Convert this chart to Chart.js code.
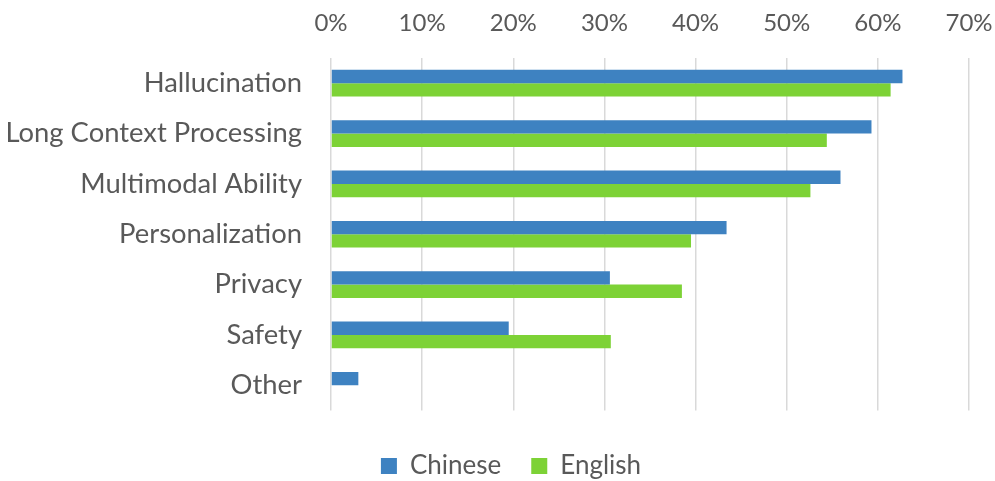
<!DOCTYPE html>
<html>
<head>
<meta charset="utf-8">
<script src="https://cdn.jsdelivr.net/npm/chart.js@4"></script>
<style>
  html, body { margin: 0; padding: 0; background: #fff; }
  #wrap { width: 995px; height: 481px; }
</style>
</head>
<body>
<div id="wrap"><canvas id="challengeChart" width="995" height="481"></canvas></div>
<script>
// categories and share of responses per language (percent)
const categories = ['Hallucination', 'Long Context Processing', 'Multimodal Ability', 'Personalization', 'Privacy', 'Safety', 'Other'];
const chineseValues = [62.7, 59.3, 55.9, 43.4, 30.6, 19.5, 3.0];
const englishValues = [61.4, 54.4, 52.6, 39.5, 38.5, 30.7, 0];
const tickMax = 70;
const tickStep = 10;

const textColor = '#595959';
const fontFamily = 'Lato, "Open Sans", sans-serif';

// plot box edges in canvas pixels
const plotLeft = 331;
const plotTop = 58;
const padLeft = 6;
const padRight = -21;          // widens the legend box so it sits a bit right of centre
const plotRightGap = 26;

const ctx = document.getElementById('challengeChart').getContext('2d');

const challengeChart = new Chart(ctx, {
    type: 'bar',
    data: {
        labels: categories,
        datasets: [
            {
                label: 'Chinese',
                data: chineseValues,
                backgroundColor: '#3e82c1',
                categoryPercentage: 0.53,
                barPercentage: 1.0,
            },
            {
                label: 'English',
                data: englishValues,
                backgroundColor: '#7dd236',
                categoryPercentage: 0.53,
                barPercentage: 1.0,
            }
        ]
    },
    options: {
        indexAxis: 'y',
        responsive: false,
        animation: false,
        layout: {
            padding: { left: padLeft, right: padRight, top: 0, bottom: -8 }
        },
        scales: {
            x: {
                position: 'top',
                min: 0,
                max: tickMax,
                ticks: {
                    stepSize: tickStep,
                    color: textColor,
                    font: { family: fontFamily, size: 24 },
                    padding: 20,
                    callback: (v) => v + '%'
                },
                grid: {
                    color: '#d9d9d9',
                    lineWidth: 1.5,
                    drawTicks: false,
                },
                border: { display: false },
                afterFit: (scale) => {
                    scale.height = plotTop;
                    scale.paddingLeft = 0;
                    scale.paddingRight = plotRightGap;
                }
            },
            y: {
                ticks: {
                    color: textColor,
                    font: { family: fontFamily, size: 27.4 },
                    padding: 29,
                },
                grid: { display: false, drawTicks: false },
                border: { display: false },
                afterFit: (scale) => {
                    scale.width = plotLeft - padLeft;
                    scale.paddingTop = 0;
                    scale.paddingBottom = 0;
                }
            }
        },
        plugins: {
            legend: {
                display: true,
                position: 'bottom',
                // empty title only adds a little space above the items
                title: {
                    display: true,
                    text: '',
                    font: { size: 12, lineHeight: 1 },
                    padding: { top: 0, bottom: 0.5 }
                },
                labels: {
                    color: textColor,
                    font: { family: fontFamily, size: 26 },
                    boxWidth: 16,
                    boxHeight: 16,
                    padding: 30,
                }
            },
            tooltip: { enabled: false }
        }
    }
});
</script>
</body>
</html>
